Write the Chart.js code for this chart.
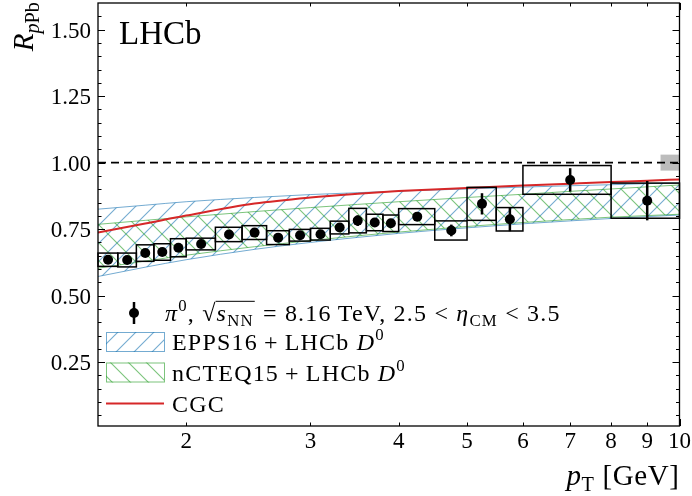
<!DOCTYPE html>
<html>
<head>
<meta charset="utf-8">
<script src="https://cdn.jsdelivr.net/npm/chart.js@4.4.1/dist/chart.umd.min.js"></script>
<style>
  html, body { margin: 0; padding: 0; background: #fff; }
  #wrap { width: 692px; height: 496px; }
</style>
</head>
<body>
<div id="wrap"><canvas id="myChart" width="692" height="496"></canvas></div>
<script>
// pT bins of the pi0 measurement
const binLo = [1.5, 1.6, 1.7, 1.8, 1.9, 2.0, 2.2, 2.4, 2.6, 2.8, 3.0, 3.2, 3.4, 3.6, 3.8, 4.0, 4.5, 5.0, 5.5, 6.0, 8.0];
const binHi = [1.6, 1.7, 1.8, 1.9, 2.0, 2.2, 2.4, 2.6, 2.8, 3.0, 3.2, 3.4, 3.6, 3.8, 4.0, 4.5, 5.0, 5.5, 6.0, 8.0, 10.0];
const ptCenter = [1.55, 1.65, 1.75, 1.85, 1.95, 2.1, 2.3, 2.5, 2.7, 2.9, 3.1, 3.3, 3.5, 3.7, 3.9, 4.25, 4.75, 5.25, 5.75, 7.0, 9.0];
const rpPb = [0.635, 0.634, 0.660, 0.664, 0.680, 0.694, 0.730, 0.737, 0.718, 0.727, 0.731, 0.756, 0.782, 0.775, 0.772, 0.797, 0.745, 0.845, 0.787, 0.935, 0.857];
const statErr = [0.008, 0.008, 0.008, 0.008, 0.008, 0.008, 0.008, 0.008, 0.008, 0.008, 0.010, 0.012, 0.020, 0.015, 0.015, 0.015, 0.022, 0.040, 0.045, 0.044, 0.074];
const systErr = [0.025, 0.026, 0.031, 0.031, 0.034, 0.022, 0.027, 0.026, 0.026, 0.022, 0.022, 0.024, 0.046, 0.031, 0.031, 0.030, 0.036, 0.062, 0.044, 0.054, 0.066];

// theory curves
const thPt = [1.5, 1.75, 2.0, 2.5, 3.0, 3.5, 4.0, 5.0, 6.0, 7.0, 8.0, 9.0, 10.0];
const eppsHigh = [0.825, 0.840, 0.853, 0.869, 0.880, 0.887, 0.893, 0.901, 0.908, 0.913, 0.917, 0.921, 0.924];
const eppsLow = [0.572, 0.607, 0.635, 0.674, 0.700, 0.719, 0.734, 0.755, 0.770, 0.781, 0.790, 0.797, 0.803];
const ncteqHigh = [0.768, 0.783, 0.796, 0.816, 0.831, 0.843, 0.853, 0.869, 0.881, 0.892, 0.901, 0.909, 0.916];
const ncteqLow = [0.603, 0.630, 0.652, 0.684, 0.707, 0.725, 0.739, 0.760, 0.775, 0.786, 0.795, 0.801, 0.806];
const cgc = [0.737, 0.771, 0.801, 0.846, 0.869, 0.883, 0.893, 0.905, 0.914, 0.921, 0.927, 0.932, 0.937];

// normalisation uncertainty box
const normPt = [9.4, 10.0];
const normUnc = 0.03;

// axes
const xTicks = [2, 3, 4, 5, 6, 7, 8, 9, 10];
const xTickLabels = ['2', '3', '4', '5', '6', '7', '8', '9', '10'];
const yTicks = [0.25, 0.5, 0.75, 1.0, 1.25, 1.5];
const yTickLabels = ['0.25', '0.50', '0.75', '1.00', '1.25', '1.50'];
const yMinorTicks = [0.05, 0.1, 0.15, 0.2, 0.3, 0.35, 0.4, 0.45, 0.55, 0.6, 0.65, 0.7, 0.8, 0.85, 0.9, 0.95,
                     1.05, 1.1, 1.15, 1.2, 1.3, 1.35, 1.4, 1.45, 1.55];

const SERIF = '"Liberation Serif", "DejaVu Serif", serif';
const BLUE = 'rgba(31,119,180,0.62)';
const GREEN = 'rgba(44,160,44,0.62)';
const RED = '#d62728';

function hatch(color, forward) {
    const s = 18;
    const c = document.createElement('canvas');
    c.width = s; c.height = s;
    const g = c.getContext('2d');
    g.strokeStyle = color;
    g.lineWidth = 1.1;
    g.beginPath();
    if (forward) {
        g.moveTo(-2, s + 2); g.lineTo(s + 2, -2);
        g.moveTo(-2, 2); g.lineTo(2, -2);
        g.moveTo(s - 2, s + 2); g.lineTo(s + 2, s - 2);
    } else {
        g.moveTo(-2, -2); g.lineTo(s + 2, s + 2);
        g.moveTo(s - 2, -2); g.lineTo(s + 2, 2);
        g.moveTo(-2, s - 2); g.lineTo(2, s + 2);
    }
    g.stroke();
    return g.createPattern(c, 'repeat');
}
const bluePattern = hatch(BLUE, true);
const greenPattern = hatch(GREEN, false);

const pts = (xs, ys) => xs.map((x, i) => ({ x, y: ys[i] }));

// draws a list of text runs (italic / sub / sup), returns end x
function runs(ctx, x, y, list, size, measureOnly) {
    for (const r of list) {
        if (r.sqrt) {
            ctx.font = size + 'px ' + SERIF;
            if (!measureOnly) ctx.fillText('\u221A', x, y);
            x += ctx.measureText('\u221A').width;
            const x0 = x;
            x = runs(ctx, x, y, r.sqrt, size, measureOnly);
            if (!measureOnly) {
                ctx.save();
                ctx.strokeStyle = '#000';
                ctx.lineWidth = 1;
                ctx.beginPath();
                ctx.moveTo(x0 - 1, y - size * 0.82);
                ctx.lineTo(x + 1, y - size * 0.82);
                ctx.stroke();
                ctx.restore();
            }
            x += 2;
            continue;
        }
        const fs = r.pos ? size * 0.7 : size;
        ctx.font = (r.it ? 'italic ' : '') + fs + 'px ' + SERIF;
        const dy = r.pos === 'sub' ? size * 0.2 : r.pos === 'sup' ? -size * 0.4 : 0;
        if (!measureOnly) ctx.fillText(r.t, x, y + dy);
        x += ctx.measureText(r.t).width;
    }
    return x;
}

const overlay = {
    id: 'overlay',
    beforeDatasetsDraw(chart) {
        const { ctx, scales: { x, y } } = chart;
        ctx.save();
        ctx.fillStyle = 'rgba(160,160,160,0.7)';
        const l = x.getPixelForValue(normPt[0]), r = x.getPixelForValue(normPt[1]);
        const t = y.getPixelForValue(1 + normUnc), b = y.getPixelForValue(1 - normUnc);
        ctx.fillRect(l, t, r - l, b - t);
        ctx.restore();
    },
    afterDatasetsDraw(chart) {
        const { ctx, scales: { x, y } } = chart;
        ctx.save();
        ctx.strokeStyle = '#000';
        // systematic boxes
        ctx.lineWidth = 1.5;
        binLo.forEach((lo, i) => {
            const l = x.getPixelForValue(lo), r = x.getPixelForValue(binHi[i]);
            const t = y.getPixelForValue(rpPb[i] + systErr[i]), b = y.getPixelForValue(rpPb[i] - systErr[i]);
            ctx.strokeRect(l, t, r - l, b - t);
        });
        // stat error bars
        ctx.lineWidth = 2.5;
        ptCenter.forEach((p, i) => {
            const px = x.getPixelForValue(p);
            ctx.beginPath();
            ctx.moveTo(px, y.getPixelForValue(rpPb[i] + statErr[i]));
            ctx.lineTo(px, y.getPixelForValue(rpPb[i] - statErr[i]));
            ctx.stroke();
        });
        ctx.fillStyle = '#000';
        ptCenter.forEach((p, i) => {
            ctx.beginPath();
            ctx.arc(x.getPixelForValue(p), y.getPixelForValue(rpPb[i]), 5, 0, Math.PI * 2);
            ctx.fill();
        });
        ctx.restore();
    },
    afterDraw(chart) {
        const { ctx, chartArea: a, scales: { x, y } } = chart;
        ctx.save();
        ctx.strokeStyle = '#000';
        ctx.fillStyle = '#000';

        // frame
        ctx.lineWidth = 1.3;
        ctx.strokeRect(a.left, a.top, a.right - a.left, a.bottom - a.top);

        // ticks, pointing inwards on all sides
        ctx.lineWidth = 1;
        ctx.beginPath();
        yTicks.forEach(v => {
            const py = Math.round(y.getPixelForValue(v)) + 0.5;
            ctx.moveTo(a.left, py); ctx.lineTo(a.left + 7, py);
            ctx.moveTo(a.right, py); ctx.lineTo(a.right - 7, py);
        });
        yMinorTicks.forEach(v => {
            const py = Math.round(y.getPixelForValue(v)) + 0.5;
            ctx.moveTo(a.left, py); ctx.lineTo(a.left + 3.5, py);
            ctx.moveTo(a.right, py); ctx.lineTo(a.right - 3.5, py);
        });
        xTicks.forEach(v => {
            const px = Math.round(x.getPixelForValue(v)) + 0.5;
            const len = v === 10 ? 7 : 3.5;
            ctx.moveTo(px, a.bottom); ctx.lineTo(px, a.bottom - len);
            ctx.moveTo(px, a.top); ctx.lineTo(px, a.top + len);
        });
        ctx.stroke();

        // tick labels
        ctx.font = '23px ' + SERIF;
        ctx.textAlign = 'right';
        ctx.textBaseline = 'alphabetic';
        yTicks.forEach((v, i) => ctx.fillText(yTickLabels[i], a.left - 7, y.getPixelForValue(v) + 8));
        ctx.textAlign = 'center';
        xTicks.forEach((v, i) => ctx.fillText(xTickLabels[i], x.getPixelForValue(v), a.bottom + 22));
        ctx.textAlign = 'left';

        // axis titles
        ctx.letterSpacing = '0.6px';
        const xt = [{ t: 'p', it: true }, { t: 'T', pos: 'sub' }, { t: ' [GeV]' }];
        const xw = runs(ctx, 0, 0, xt, 29, true);
        runs(ctx, a.right - xw, 485, xt, 29);
        ctx.letterSpacing = '0px';

        const yt = [{ t: 'R', it: true }, { t: 'p', it: true, pos: 'sub' }, { t: 'Pb', pos: 'sub' }];
        const yw = runs(ctx, 0, 0, yt, 29, true);
        ctx.save();
        ctx.translate(33, a.top - 1);
        ctx.rotate(-Math.PI / 2);
        runs(ctx, -yw, 0, yt, 29);
        ctx.restore();

        // experiment tag
        ctx.font = '33px ' + SERIF;
        ctx.fillText('LHCb', 119, 44);

        // legend
        const lx0 = 106, lx1 = 164, tx = 172, fs = 24;
        const rows = [313, 342, 372.5, 403.5];
        ctx.lineWidth = 2.5;
        ctx.beginPath();
        ctx.moveTo(134, rows[0] - 11); ctx.lineTo(134, rows[0] + 11);
        ctx.stroke();
        ctx.beginPath();
        ctx.arc(134, rows[0], 5, 0, Math.PI * 2);
        ctx.fill();
        ctx.letterSpacing = '1.2px';
        runs(ctx, tx - 7, rows[0] + 8, [
            { t: '\u03C0', it: true }, { t: '0', pos: 'sup' }, { t: ', ' },
            { sqrt: [{ t: 's', it: true }, { t: 'NN', pos: 'sub' }] },
            { t: ' = 8.16\u2009TeV, 2.5 < ' },
            { t: '\u03B7', it: true }, { t: 'CM', pos: 'sub' }, { t: ' < 3.5' }
        ], fs);

        [[bluePattern, BLUE, rows[1], 'EPPS16\u2009+\u2009LHCb '], [greenPattern, GREEN, rows[2], 'nCTEQ15\u2009+\u2009LHCb ']].forEach(([pat, col, ry, label]) => {
            ctx.fillStyle = pat;
            ctx.fillRect(lx0, ry - 10, lx1 - lx0, 20);
            ctx.strokeStyle = col;
            ctx.lineWidth = 1;
            ctx.strokeRect(lx0 + 0.5, ry - 9.5, lx1 - lx0, 19);
            ctx.fillStyle = '#000';
            runs(ctx, tx, ry + 8, [{ t: label }, { t: 'D', it: true }, { t: '0', pos: 'sup' }], fs);
        });

        ctx.strokeStyle = RED;
        ctx.lineWidth = 2;
        ctx.beginPath();
        ctx.moveTo(lx0, rows[3]); ctx.lineTo(lx1, rows[3]);
        ctx.stroke();
        ctx.fillStyle = '#000';
        runs(ctx, tx, rows[3] + 8, [{ t: 'CGC' }], fs);
        ctx.letterSpacing = '0px';

        ctx.restore();
    }
};

const ctx = document.getElementById('myChart').getContext('2d');
new Chart(ctx, {
    data: {
        datasets: [
            {
                type: 'line', label: 'EPPS16 up', data: pts(thPt, eppsHigh),
                borderColor: BLUE, borderWidth: 1, pointRadius: 0, fill: '+1',
                backgroundColor: bluePattern, cubicInterpolationMode: 'monotone', order: 4
            },
            {
                type: 'line', label: 'EPPS16 down', data: pts(thPt, eppsLow),
                borderColor: BLUE, borderWidth: 1, pointRadius: 0, fill: false,
                cubicInterpolationMode: 'monotone', order: 4
            },
            {
                type: 'line', label: 'nCTEQ15 up', data: pts(thPt, ncteqHigh),
                borderColor: GREEN, borderWidth: 1, pointRadius: 0, fill: '+1',
                backgroundColor: greenPattern, cubicInterpolationMode: 'monotone', order: 3
            },
            {
                type: 'line', label: 'nCTEQ15 down', data: pts(thPt, ncteqLow),
                borderColor: GREEN, borderWidth: 1, pointRadius: 0, fill: false,
                cubicInterpolationMode: 'monotone', order: 3
            },
            {
                type: 'line', label: 'CGC', data: pts(thPt, cgc),
                borderColor: RED, borderWidth: 2, pointRadius: 0, fill: false,
                cubicInterpolationMode: 'monotone', order: 2
            },
            {
                type: 'line', label: 'unity', data: [{ x: 1.5, y: 1 }, { x: 10, y: 1 }],
                borderColor: '#000', borderWidth: 1.8, borderDash: [8, 5], pointRadius: 0, fill: false, order: 1
            }
        ]
    },
    options: {
        responsive: false,
        animation: false,
        devicePixelRatio: 1,
        layout: { padding: { top: 3, right: 12.5, left: 0, bottom: 0 } },
        plugins: { legend: { display: false }, tooltip: { enabled: false } },
        scales: {
            x: {
                type: 'logarithmic', min: 1.5, max: 10,
                ticks: { display: false }, grid: { display: false }, border: { display: false },
                afterFit: s => { s.height = 70; }
            },
            y: {
                type: 'linear', min: 0.01, max: 1.6,
                ticks: { display: false }, grid: { display: false }, border: { display: false },
                afterFit: s => { s.width = 98; }
            }
        }
    },
    plugins: [overlay]
});
</script>
</body>
</html>
